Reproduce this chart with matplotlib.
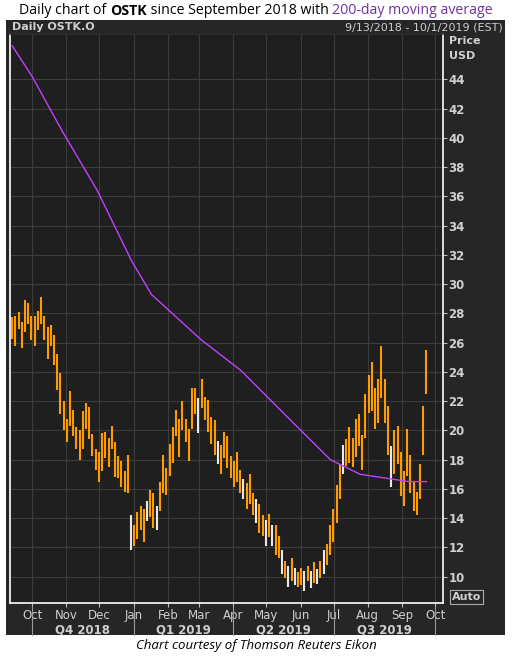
import datetime as dt
import matplotlib
matplotlib.use('Agg')
import matplotlib.pyplot as plt
import matplotlib.dates as mdates
from matplotlib.patches import Rectangle

# price bars (one bar per ~2 trading days), mid price and bar range
mids = [27, 26.8, 27.5, 26.5, 27.8, 28, 27, 26.8, 27.5, 28.2,
        27, 26, 26.5, 25.5, 24, 22.5, 21, 20, 21.5, 20.5,
        19.5, 19, 20, 21, 20.5, 19, 18, 17.5, 18.5, 19,
        18.5, 19.5, 18, 17.5, 17, 16.5, 17, 13, 12.8, 13.5,
        14, 13.5, 14.5, 15, 14.5, 14, 15.5, 17, 16.5, 18,
        19, 20.5, 19.5, 21, 20, 19, 21.5, 22, 21, 22.5,
        21.5, 21, 20, 19.5, 18.5, 18, 19, 18.5, 17.5, 17,
        17.5, 16.5, 16, 15.5, 16, 15, 14.5, 14, 13.5, 13,
        13.5, 12.8, 12.5, 12, 11, 10.5, 10, 10.5, 10, 9.8,
        10, 9.7, 10.2, 9.8, 10.3, 10, 10.5, 11, 11.5, 12.5,
        13.5, 15, 16.5, 18, 18.5, 19, 18.5, 19.5, 20, 18.5,
        21, 22.5, 23, 21.5, 22, 24, 22, 20, 17.5, 18.5,
        19, 17, 16, 18.5, 17, 15.5, 15, 16.5, 20, 24]
rngs = [1.5, 2.0, 1.2, 1.8, 2.2, 1.4, 1.6, 2.0, 1.3, 1.8,
        1.6, 2.2, 1.4, 2.0, 2.5, 2.8, 2.0, 1.6, 2.4, 1.8,
        1.5, 2.0, 2.6, 1.8, 2.2, 1.5, 1.4, 2.0, 2.6, 1.8,
        2.0, 1.6, 2.4, 1.5, 1.8, 1.4, 2.6, 2.4, 1.4, 1.8,
        1.6, 2.2, 1.4, 1.8, 2.4, 1.6, 2.0, 2.6, 1.8, 2.2,
        2.4, 1.8, 2.6, 2.0, 1.6, 2.2, 2.8, 1.8, 2.4, 2.0,
        1.6, 2.2, 1.8, 2.4, 1.6, 2.0, 1.8, 2.2, 1.5, 1.8,
        2.0, 1.6, 1.4, 1.8, 2.0, 1.5, 1.6, 2.0, 1.4, 1.8,
        1.6, 1.4, 2.0, 1.5, 1.6, 1.2, 1.4, 1.6, 1.2, 1.0,
        1.2, 1.4, 1.0, 1.2, 1.4, 1.0, 1.2, 1.6, 1.4, 2.0,
        2.2, 2.6, 2.4, 2.0, 1.8, 2.4, 2.0, 2.6, 2.2, 2.4,
        3.0, 2.6, 3.4, 2.8, 3.0, 3.6, 3.0, 3.4, 2.8, 3.0,
        2.6, 3.0, 2.4, 3.2, 2.6, 2.0, 1.6, 2.4, 3.4, 3.0]
white_bars = [37, 42, 45, 58, 64, 72, 76, 79, 81, 84, 86, 88, 91, 93, 95, 97, 103, 118]

# 200-day moving average points
ma_dates = ['2018-09-13', '2018-10-01', '2018-10-28', '2018-11-29', '2018-12-30',
            '2019-01-17', '2019-03-03', '2019-04-08', '2019-05-23', '2019-06-28',
            '2019-07-25', '2019-09-07', '2019-09-23']
ma_vals = [46.3, 44.2, 40.5, 36.4, 31.6, 29.3, 26.2, 24.1, 20.7, 18.0,
           17.0, 16.5, 16.5]

month_ticks = ['2018-10-01', '2018-11-01', '2018-12-01', '2019-01-01', '2019-02-01',
               '2019-03-01', '2019-04-01', '2019-05-01', '2019-06-01', '2019-07-01',
               '2019-08-01', '2019-09-01', '2019-10-01']
month_labels = ['Oct', 'Nov', 'Dec', 'Jan', 'Feb', 'Mar', 'Apr', 'May', 'Jun', 'Jul',
                'Aug', 'Sep', 'Oct']
quarter_bounds = ['2018-10-01', '2019-01-01', '2019-04-01', '2019-07-01', '2019-10-01']
quarter_labels = ['Q4 2018', 'Q1 2019', 'Q2 2019', 'Q3 2019']
y_ticks = list(range(10, 46, 2))

d = lambda s: mdates.date2num(dt.datetime.strptime(s, '%Y-%m-%d'))
start, end = d('2018-09-13'), d('2019-09-23')
bar_x = [start + i * (end - start) / (len(mids) - 1) for i in range(len(mids))]

BG_OUT = '#262626'
BG_AX = '#1f1f1f'
GRID = '#3c3c3c'
TXT = '#cfcfcf'
ORANGE = '#ff9a00'

fig = plt.figure(figsize=(5.12, 6.59), dpi=100)
fig.patch.set_facecolor('white')
fig.patches.append(Rectangle((6 / 512, 1 - 635 / 659), 499 / 512, 615 / 659,
                             transform=fig.transFigure, facecolor=BG_OUT, zorder=-5))

ax = fig.add_axes([10 / 512, 1 - 603 / 659, 433 / 512, 569 / 659])
ax.set_facecolor(BG_AX)
for i, (x, m, r) in enumerate(zip(bar_x, mids, rngs)):
    c = '#e8e8e8' if i in white_bars else ORANGE
    ax.vlines(x, m - r / 2, m + r / 2, color=c, lw=1.5)
ax.plot([d(s) for s in ma_dates], ma_vals, color='#c040ff', lw=1)

ax.set_xlim(d('2018-09-11'), d('2019-10-08'))
ax.set_ylim(8.2, 47.1)
ax.yaxis.tick_right()
ax.set_yticks(y_ticks)
ax.set_yticklabels([str(v) for v in y_ticks], fontsize=8.5, fontweight='bold')
ax.set_xticks([d(s) for s in month_ticks])
ax.set_xticklabels(month_labels, fontsize=8.5)
ax.tick_params(axis='both', colors='#bbbbbb', length=3, width=0.8, pad=1)
for lab in ax.get_yticklabels() + ax.get_xticklabels():
    lab.set_color(TXT)
ax.grid(True, color=GRID, lw=0.8)
ax.set_axisbelow(True)
for s in ax.spines.values():
    s.set_color('white')
    s.set_linewidth(1.2)
ax.spines['top'].set_color('#2c2c2c')

# quarter labels
qb = [d(s) for s in quarter_bounds]
for i, q in enumerate(quarter_labels):
    ax.text((qb[i] + qb[i + 1]) / 2, -0.047, q, transform=ax.get_xaxis_transform(),
            ha='center', va='center', color=TXT, fontsize=8.5, fontweight='bold')
for x in qb:
    ax.plot([x, x], [-0.005, -0.056], transform=ax.get_xaxis_transform(),
            color='#999999', lw=0.8, clip_on=False)

# title with mixed styles, centered
ty = 1 - 11 / 659
parts = [('Daily chart of ', 'normal', 'black'), ('OSTK', 'bold', 'black'),
         (' since September 2018 with ', 'normal', 'black'),
         ('200-day moving average', 'normal', '#7030a0')]
fig.canvas.draw()
r = fig.canvas.get_renderer()
texts = []
x0 = 0
for s, w, c in parts:
    t = fig.text(x0 / 512, ty, s, ha='left', va='center', fontsize=10.2,
                 family='Open Sans', fontweight=w, color=c)
    x0 = t.get_window_extent(r).x1
    texts.append(t)
shift = (512 - x0) / 2
for t in texts:
    t.set_x(t.get_position()[0] + shift / 512)

fig.text(12 / 512, 1 - 27 / 659, 'Daily OSTK.O', ha='left', va='center',
         color=TXT, fontsize=8, fontweight='bold')
fig.text(503 / 512, 1 - 27 / 659, '9/13/2018 - 10/1/2019 (EST)', ha='right',
         va='center', color=TXT, fontsize=8)
fig.text(449 / 512, 1 - 41 / 659, 'Price', ha='left', va='center', color=TXT,
         fontsize=8, fontweight='bold')
fig.text(449 / 512, 1 - 56 / 659, 'USD', ha='left', va='center', color=TXT,
         fontsize=8, fontweight='bold')
fig.text(452 / 512, 1 - 597 / 659, 'Auto', ha='left', va='center', color=TXT,
         fontsize=8, fontweight='bold',
         bbox=dict(facecolor=BG_OUT, edgecolor='#aaaaaa', pad=1.2, lw=0.8))
fig.text(0.5, 1 - 646 / 659, 'Chart courtesy of Thomson Reuters Eikon', ha='center',
         va='center', fontsize=9.5, style='italic', family='Open Sans')

fig.savefig('out.png', dpi=100, facecolor='white')
